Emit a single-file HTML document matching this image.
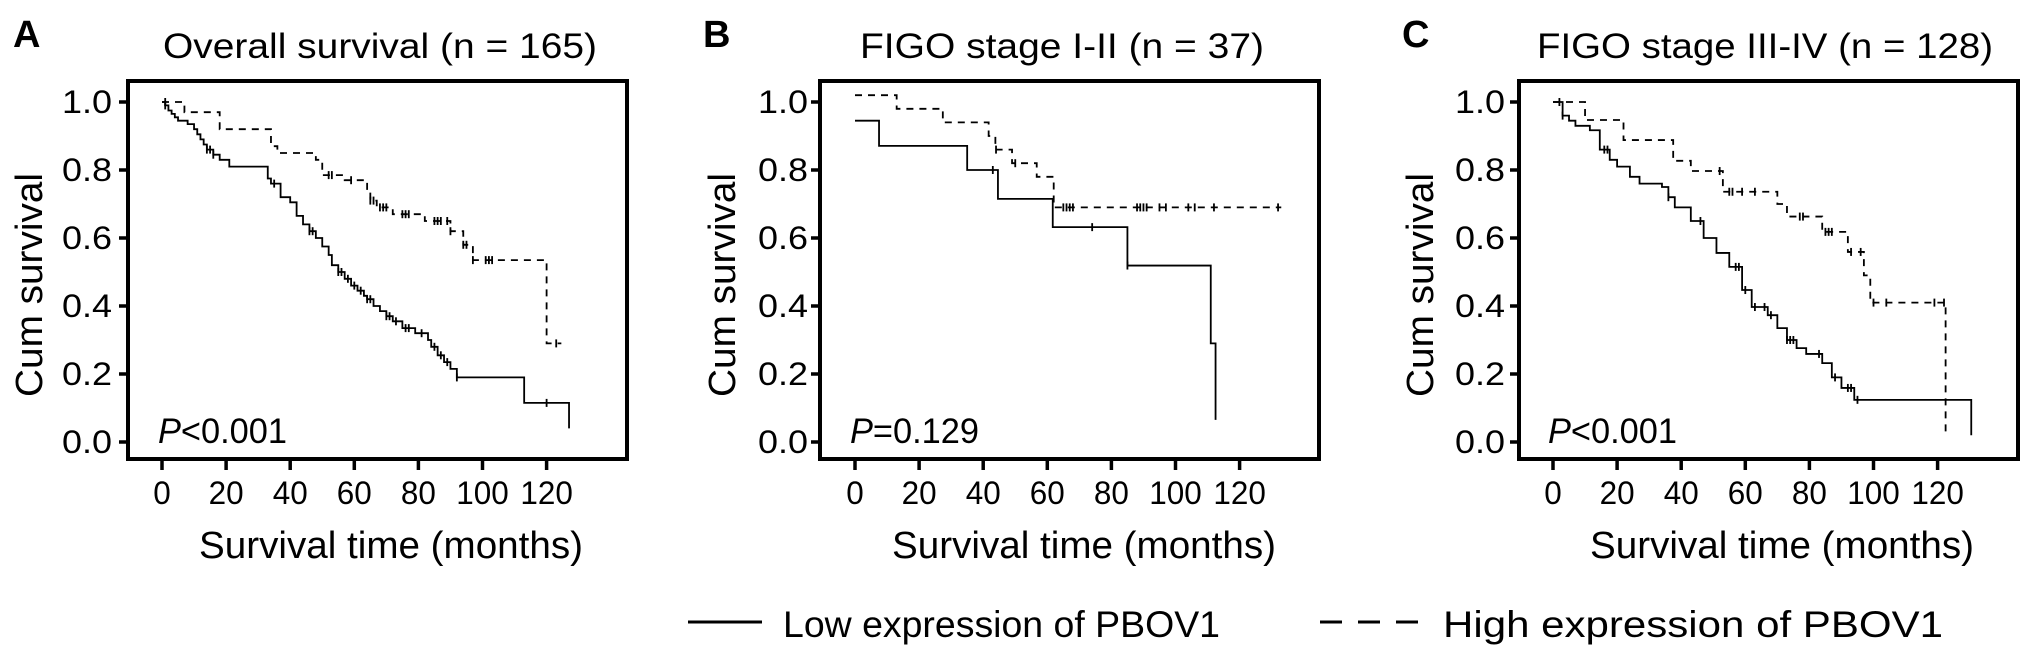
<!DOCTYPE html>
<html><head><meta charset="utf-8"><style>
html,body{margin:0;padding:0;background:#fff;}
svg{display:block;font-family:"Liberation Sans",Arial,sans-serif;}
</style></head><body>
<svg id="fig" width="2031" height="657" viewBox="0 0 2031 657" xmlns="http://www.w3.org/2000/svg"></svg>
<script>
// ---- data (months, cumulative survival) ----
const xTicks = [0,20,40,60,80,100,120];
const yTicks = [0.0,0.2,0.4,0.6,0.8,1.0];
const yTickLabels = ["0.0","0.2","0.4","0.6","0.8","1.0"];
const panelTitles = ["Overall survival (n = 165)","FIGO stage I-II (n = 37)","FIGO stage III-IV (n = 128)"];
const panelLetters = ["A","B","C"];
const pValues = ["<0.001","=0.129","<0.001"];

const aLowT = [0,1,2,3,4,5,8,10,11,12,13,14,16,18,21,33,34,37,40,42,44,46,48,50,52,53,55,57,59,61,63,64,66,68,70,72,75,79,83,84,86,88,90,92,113,127];
const aLowS = [1.0,0.99,0.975,0.965,0.955,0.945,0.935,0.92,0.905,0.89,0.875,0.86,0.845,0.83,0.81,0.775,0.76,0.72,0.705,0.665,0.64,0.62,0.60,0.575,0.55,0.52,0.50,0.48,0.46,0.445,0.43,0.42,0.40,0.385,0.37,0.355,0.335,0.32,0.30,0.28,0.255,0.235,0.215,0.19,0.115,0.04];
const aLowC = [1,14,15,16,35,46,47,55,56,58,60,62,64,65,70,71,73,76,77,81,85,87,89,92,120];
const aHighT = [0,7,18,34,36,48,50,57,64,65,67,72,82,90,94,97,120,124.6];
const aHighS = [1.0,0.97,0.92,0.87,0.85,0.83,0.785,0.77,0.74,0.71,0.69,0.67,0.65,0.62,0.58,0.535,0.29,0.29];
const aHighC = [1,52,53,59,65,66,68,69,70,75,76,77,85,86,87,89,90,94,95,97,101,102,103,123];

const bLowT = [0,7.5,35,44.6,61.7,85,111,112.5];
const bLowS = [0.945,0.871,0.80,0.715,0.632,0.519,0.29,0.065];
const bLowC = [43,74,85];
const bHighT = [0,13,27.4,41.7,43.8,49,56.7,62,133];
const bHighS = [1.02,0.98,0.94,0.90,0.86,0.82,0.78,0.69,0.69];
const bHighC = [44,50,65,66,67,68,88,89,90,91,95,97,104,106,112,132];

const cLowT = [0,3,5,7,11.5,14.6,17.7,20,24,27,34,36,38,43,47,51,55,59,62,67,70,73,76,79,84,87,90,94,130.5];
const cLowS = [1.0,0.96,0.945,0.93,0.917,0.86,0.83,0.81,0.78,0.76,0.75,0.72,0.69,0.65,0.60,0.556,0.515,0.447,0.397,0.373,0.335,0.30,0.276,0.259,0.232,0.19,0.159,0.124,0.02];
const cLowC = [3,16,17,36,46,57,58,60,63,66,68,73,74,75,83,88,92,93,95];
const cHighT = [0,10,22,37.5,43,53,70,73,84,92,97,99,122.5];
const cHighS = [1.0,0.947,0.888,0.827,0.797,0.736,0.70,0.663,0.618,0.559,0.49,0.41,0.02];
const cHighC = [2,52,55,56,59,63,77,78,85,86,87,93,96,100,104,119,122];

// ---- layout ----
const NS = "http://www.w3.org/2000/svg";
const svg = document.getElementById("fig");
const panels = [
  {fl:128, fr:627, x0:162, yl:112, title:[163,597], letter:13, ylab:42, p:158,
   low:[aLowT,aLowS,aLowC], high:[aHighT,aHighS,aHighC], xt:[199,583]},
  {fl:820, fr:1319, x0:855, yl:808, title:[860,1264], letter:703, ylab:735, p:850,
   low:[bLowT,bLowS,bLowC], high:[bHighT,bHighS,bHighC], xt:[892,1276]},
  {fl:1519, fr:2018, x0:1553, yl:1505, title:[1537,1993], letter:1402, ylab:1433, p:1548,
   low:[cLowT,cLowS,cLowC], high:[cHighT,cHighS,cHighC], xt:[1590,1974]}
];
const FT = 81, FB = 459, Y0 = 442, Y1 = 102, PXM = 3.205;

function mk(tag, attrs){ const e=document.createElementNS(NS,tag); for(const k in attrs) e.setAttribute(k,attrs[k]); svg.appendChild(e); return e; }

panels.forEach((p,pi)=>{
  const xS = m => p.x0 + m*PXM;
  const yS = s => Y0 - s*(Y0-Y1);

  const fr = mk("rect",{x:p.fl,y:FT,width:p.fr-p.fl,height:FB-FT,fill:"none",stroke:"#000","stroke-width":4});
  
  

  yTicks.forEach((v,i)=>{
    const t = mk("line",{x1:p.fl-9,x2:p.fl,y1:yS(v),y2:yS(v),stroke:"#000","stroke-width":3.5});
    
    
    const lb = mk("text",{x:p.yl,y:yS(v)+11,"font-size":32,"text-anchor":"end",textLength:50,lengthAdjust:"spacingAndGlyphs"});
    lb.textContent = yTickLabels[i];
    
    
  });
  xTicks.forEach(v=>{
    const t = mk("line",{x1:xS(v),x2:xS(v),y1:FB,y2:FB+11,stroke:"#000","stroke-width":3.5});
    
    
    const s = String(v);
    const lb = mk("text",{x:xS(v),y:504,"font-size":32,"text-anchor":"middle",textLength:s.length*17.5,lengthAdjust:"spacingAndGlyphs"});
    lb.textContent = s;
    
    
  });

  const ti = mk("text",{x:p.title[0],y:58,"font-size":35,textLength:p.title[1]-p.title[0],lengthAdjust:"spacingAndGlyphs"});
  ti.textContent = panelTitles[pi];
  
  

  const le = mk("text",{x:p.letter,y:47,"font-size":38,"font-weight":"bold"});
  le.textContent = panelLetters[pi];
  
  

  const yl = mk("text",{x:0,y:0,"font-size":38,"text-anchor":"middle",textLength:224,lengthAdjust:"spacingAndGlyphs",transform:`translate(${p.ylab},285) rotate(-90)`});
  yl.textContent = "Cum survival";
  
  

  const xl = mk("text",{x:p.xt[0],y:558,"font-size":38,textLength:p.xt[1]-p.xt[0],lengthAdjust:"spacingAndGlyphs"});
  xl.textContent = "Survival time (months)";
  
  

  const pv = mk("text",{x:p.p,y:443,"font-size":35,textLength:129,lengthAdjust:"spacingAndGlyphs"});
  
  
  const it = document.createElementNS(NS,"tspan"); it.setAttribute("font-style","italic"); it.textContent="P";
  pv.appendChild(it); pv.appendChild(document.createTextNode(pValues[pi]));

  [[p.low,"low-expression-curve",null],[p.high,"high-expression-curve","7,6"]].forEach(([ser,name,dash])=>{
    const [T,S,C] = ser;
    let d = `M${xS(T[0])},${yS(S[0])}`;
    for(let i=1;i<T.length;i++) d += ` H${xS(T[i])} V${yS(S[i])}`;
    const a = {d:d,fill:"none",stroke:"#000","stroke-width":1.8};
    if(dash) a["stroke-dasharray"]=dash;
    const path = mk("path",a);
    
    
    C.forEach(c=>{
      let s=S[0];
      for(let i=0;i<T.length;i++){ if(T[i]<=c) s=S[i]; }
      const m = mk("line",{x1:xS(c),x2:xS(c),y1:yS(s)-4,y2:yS(s)+4,stroke:"#000","stroke-width":1.8});
      
      
    });
  });
});

// legend
const l1 = mk("line",{x1:688,x2:762,y1:622,y2:622,stroke:"#000","stroke-width":3});


const t1 = mk("text",{x:783,y:637,"font-size":37,textLength:437,lengthAdjust:"spacingAndGlyphs"});
t1.textContent = "Low expression of PBOV1";


const l2 = mk("line",{x1:1320,x2:1418,y1:622,y2:622,stroke:"#000","stroke-width":3,"stroke-dasharray":"22,16"});


const t2 = mk("text",{x:1443,y:637,"font-size":37,textLength:500,lengthAdjust:"spacingAndGlyphs"});
t2.textContent = "High expression of PBOV1";


</script>
</body></html>
